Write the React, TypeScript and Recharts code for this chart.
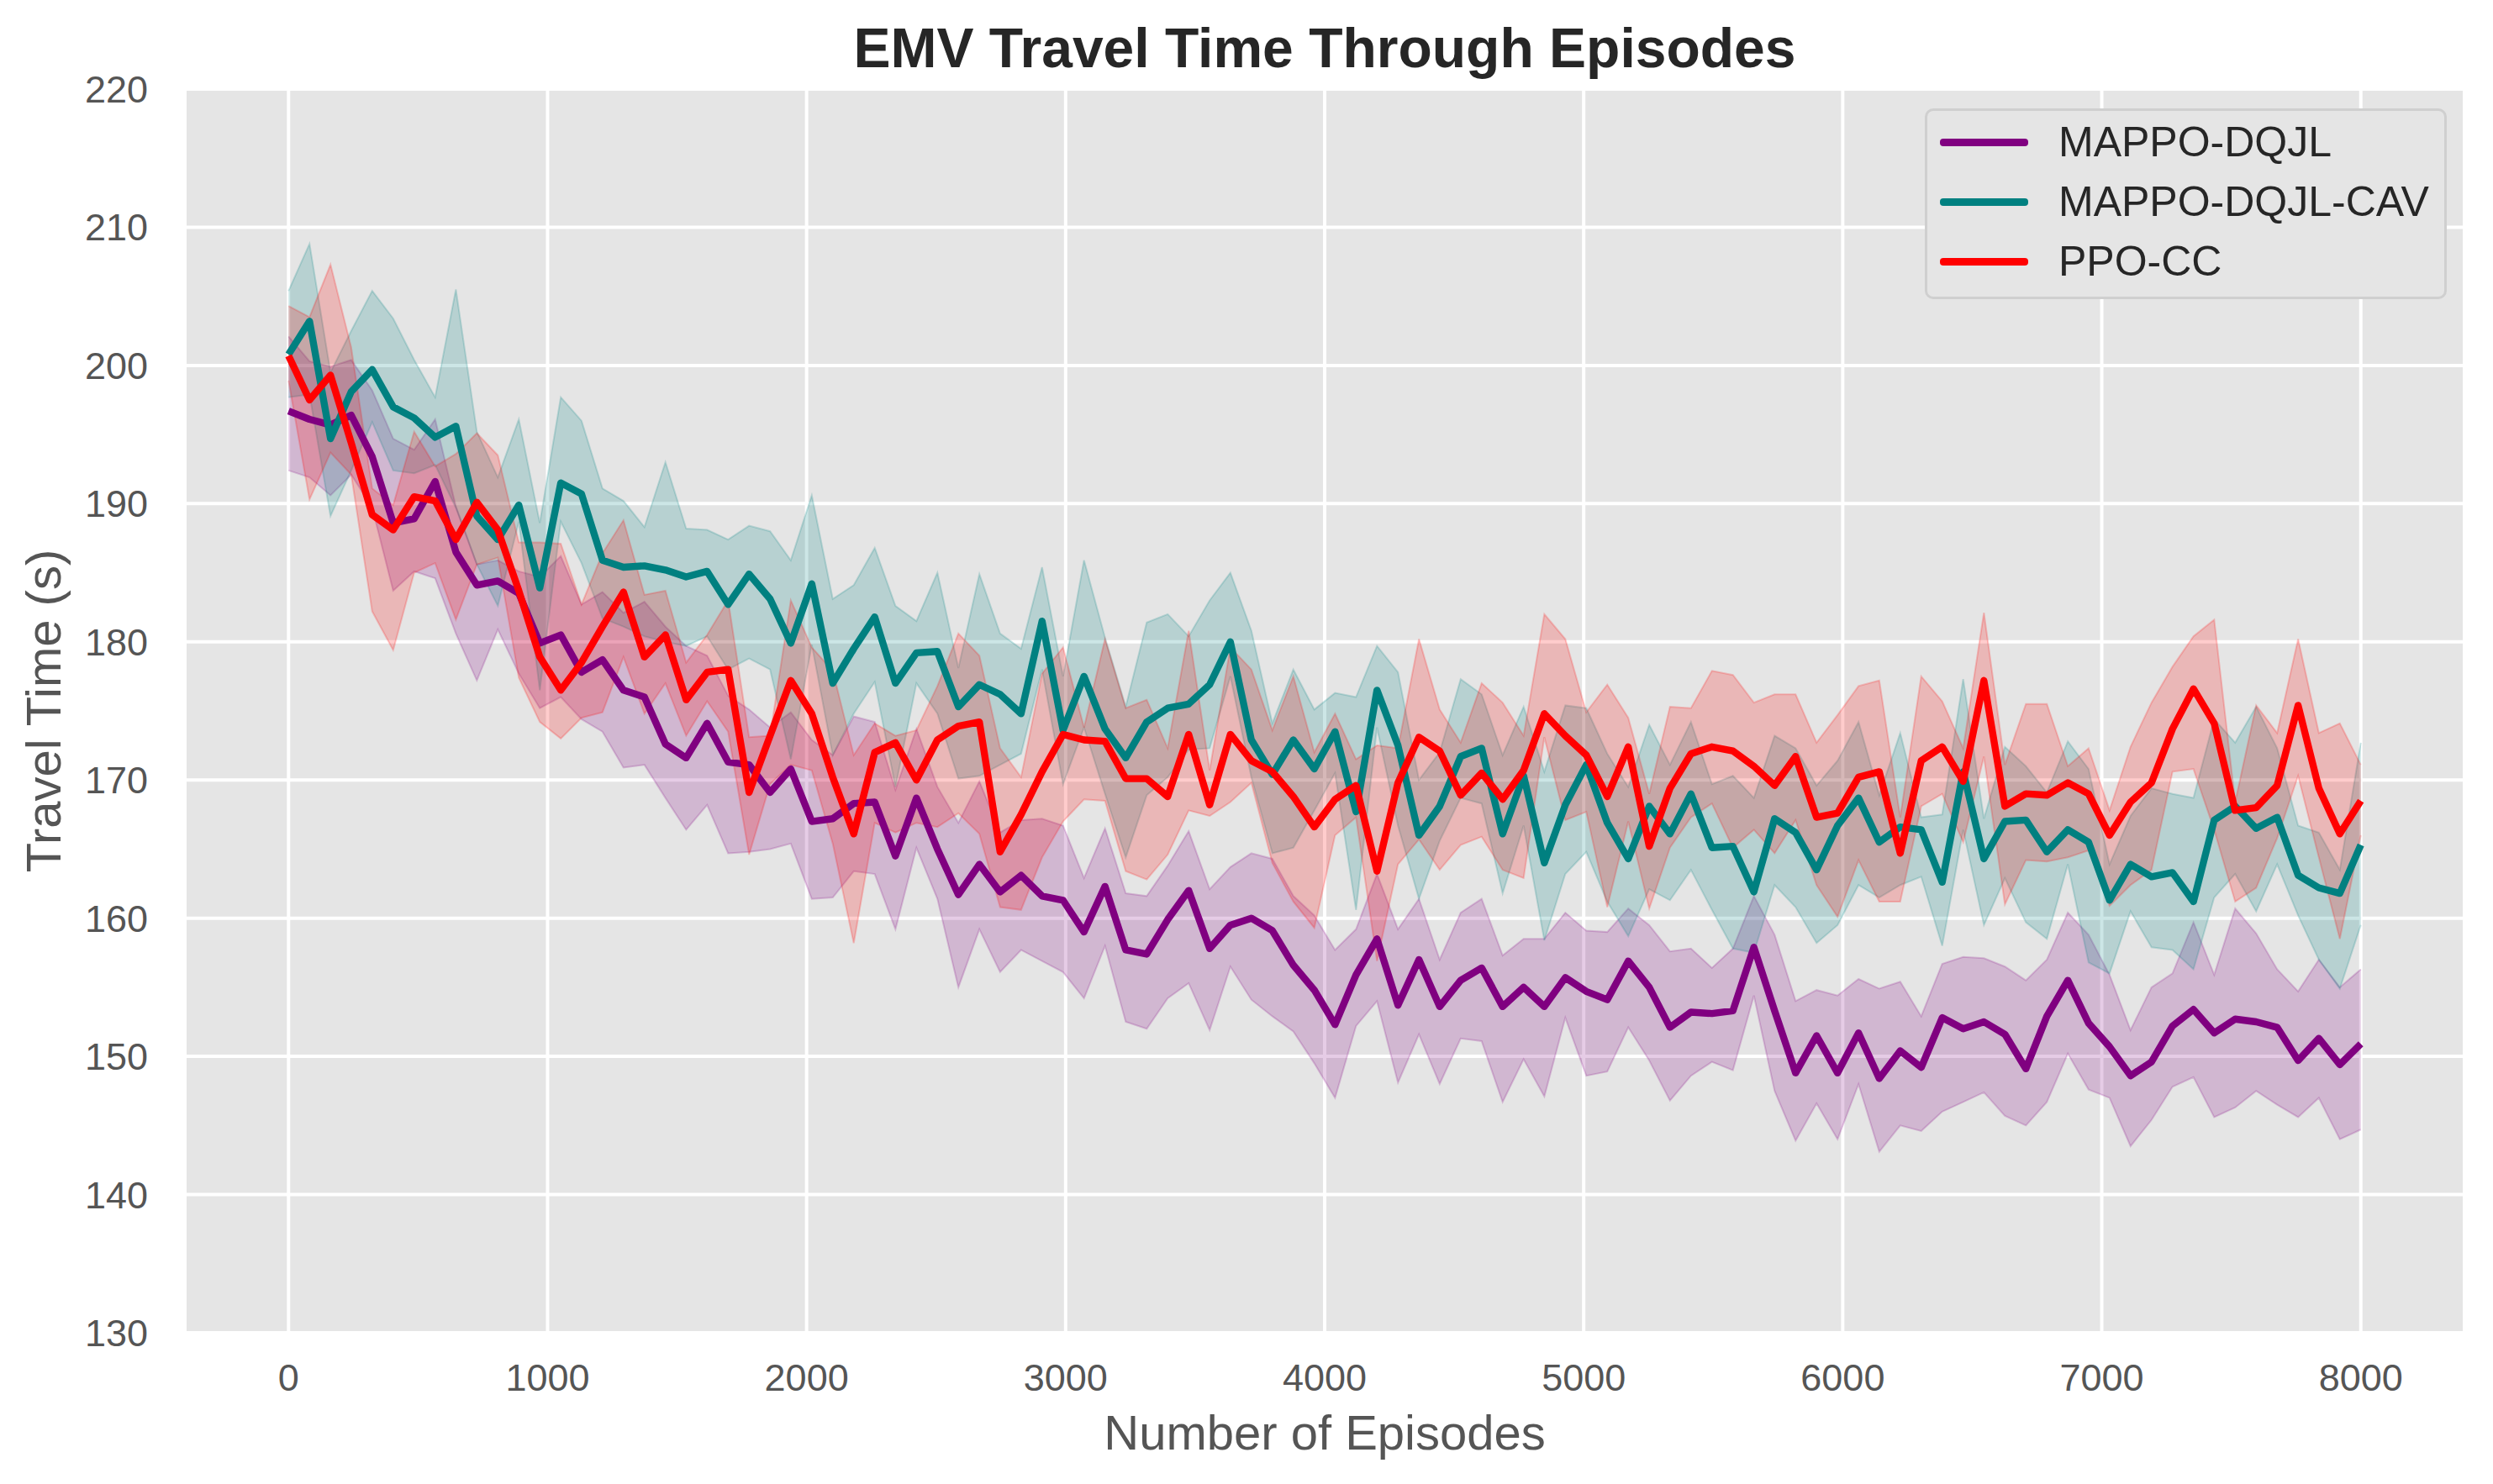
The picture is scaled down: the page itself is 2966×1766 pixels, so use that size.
import { ComposedChart, Line, Area, XAxis, YAxis, CartesianGrid } from "recharts"

// episode index (100 evaluation points between 0 and 8000)
const episodes = [
  0, 81, 162, 242, 323, 404, 485, 566, 646, 727,
  808, 889, 970, 1051, 1131, 1212, 1293, 1374, 1455, 1535,
  1616, 1697, 1778, 1859, 1939, 2020, 2101, 2182, 2263, 2343,
  2424, 2505, 2586, 2667, 2747, 2828, 2909, 2990, 3071, 3152,
  3232, 3313, 3394, 3475, 3556, 3636, 3717, 3798, 3879, 3960,
  4040, 4121, 4202, 4283, 4364, 4444, 4525, 4606, 4687, 4768,
  4848, 4929, 5010, 5091, 5172, 5253, 5333, 5414, 5495, 5576,
  5657, 5737, 5818, 5899, 5980, 6061, 6141, 6222, 6303, 6384,
  6465, 6545, 6626, 6707, 6788, 6869, 6949, 7030, 7111, 7192,
  7273, 7354, 7434, 7515, 7596, 7677, 7758, 7838, 7919, 8000,
]

// MAPPO-DQJL
const dqjlMean = [
  196.7, 196.1, 195.7, 196.4, 193.4, 188.6, 188.9, 191.6, 186.5, 184.1,
  184.4, 183.5, 179.9, 180.5, 177.8, 178.7, 176.5, 176.0, 172.6, 171.6,
  174.1, 171.3, 171.1, 169.1, 170.8, 167.0, 167.2, 168.3, 168.4, 164.5,
  168.7, 165.0, 161.7, 163.9, 161.9, 163.1, 161.6, 161.3, 159.0, 162.3,
  157.7, 157.4, 159.9, 162.0, 157.8, 159.5, 160.0, 159.1, 156.6, 154.8,
  152.3, 155.9, 158.5, 153.7, 157.0, 153.6, 155.5, 156.4, 153.6, 155.0,
  153.6, 155.7, 154.7, 154.1, 156.9, 155.0, 152.1, 153.2, 153.1, 153.3,
  157.9, 153.3, 148.8, 151.5, 148.8, 151.7, 148.4, 150.4, 149.2, 152.8,
  152.0, 152.5, 151.6, 149.1, 152.9, 155.5, 152.4, 150.7, 148.6, 149.6,
  152.2, 153.4, 151.7, 152.7, 152.5, 152.1, 149.7, 151.3, 149.4, 150.9,
]
const dqjlHigh = [
  202.1, 200.3, 199.9, 200.4, 198.2, 194.7, 193.9, 196.1, 189.8, 185.6,
  185.9, 185.1, 184.7, 186.2, 182.7, 183.6, 182.1, 182.9, 181.1, 179.7,
  179.0, 176.1, 175.1, 173.8, 174.9, 172.9, 171.8, 174.6, 174.2, 169.3,
  173.7, 169.5, 166.9, 169.9, 166.2, 167.1, 167.2, 166.7, 162.9, 166.5,
  161.8, 161.6, 163.8, 166.3, 162.1, 163.7, 164.7, 164.3, 161.6, 160.2,
  157.7, 159.2, 163.2, 159.2, 161.4, 157.0, 160.4, 161.4, 157.3, 158.5,
  158.5, 160.4, 159.1, 159.0, 160.7, 159.5, 157.6, 157.8, 156.4, 157.8,
  161.6, 158.8, 154.0, 154.8, 154.4, 155.6, 154.9, 155.4, 152.9, 156.7,
  157.2, 157.1, 156.5, 155.5, 157.0, 160.4, 158.8, 155.9, 151.9, 155.0,
  156.0, 159.7, 155.9, 160.7, 158.9, 156.3, 154.7, 157.0, 155.0, 156.3,
]
const dqjlLow = [
  192.4, 191.9, 190.6, 192.1, 189.7, 183.7, 185.1, 184.6, 180.6, 177.2,
  180.9, 177.7, 175.2, 176.0, 174.4, 173.5, 170.9, 171.1, 168.7, 166.4,
  168.2, 164.7, 164.8, 165.0, 165.4, 161.4, 161.5, 163.4, 163.2, 159.2,
  165.1, 161.4, 155.0, 159.2, 156.1, 157.7, 156.9, 156.1, 154.2, 158.0,
  152.5, 152.0, 154.2, 155.3, 151.9, 156.5, 154.1, 152.9, 151.8, 149.5,
  147.0, 152.2, 154.0, 148.1, 151.6, 148.0, 151.3, 151.1, 146.7, 149.8,
  147.1, 152.8, 148.6, 148.9, 152.1, 149.7, 146.8, 148.6, 149.6, 149.0,
  154.4, 147.5, 143.9, 146.6, 144.0, 148.0, 143.1, 145.0, 144.6, 146.0,
  146.7, 147.4, 145.7, 145.0, 146.7, 150.2, 147.6, 147.0, 143.5, 145.4,
  147.8, 148.5, 145.6, 146.3, 147.5, 146.5, 145.6, 147.0, 144.0, 144.7,
]

// MAPPO-DQJL-CAV
const cavMean = [
  200.8, 203.2, 194.7, 198.1, 199.7, 197.0, 196.2, 194.8, 195.6, 189.1,
  187.4, 189.9, 183.9, 191.5, 190.7, 185.9, 185.4, 185.5, 185.2, 184.7,
  185.1, 182.7, 184.9, 183.1, 179.9, 184.2, 177.0, 179.5, 181.8, 177.0,
  179.2, 179.3, 175.3, 176.9, 176.2, 174.8, 181.5, 173.6, 177.5, 173.7,
  171.6, 174.2, 175.2, 175.5, 176.9, 180.0, 172.9, 170.4, 172.9, 170.8,
  173.5, 167.7, 176.5, 172.5, 166.0, 168.1, 171.7, 172.3, 166.1, 170.3,
  164.0, 168.2, 171.1, 166.9, 164.3, 168.1, 166.1, 169.0, 165.1, 165.2,
  161.9, 167.2, 166.2, 163.5, 166.7, 168.7, 165.5, 166.6, 166.4, 162.6,
  170.6, 164.3, 167.0, 167.1, 164.8, 166.4, 165.5, 161.3, 163.9, 163.0,
  163.3, 161.2, 167.1, 168.1, 166.5, 167.3, 163.1, 162.2, 161.8, 165.3,
]
const cavHigh = [
  205.4, 208.8, 199.5, 202.5, 205.4, 203.4, 200.4, 197.7, 205.5, 195.2,
  191.9, 196.1, 188.6, 197.7, 196.0, 191.1, 190.2, 188.3, 193.0, 188.2,
  188.1, 187.4, 188.4, 188.0, 185.9, 190.6, 183.1, 184.1, 186.8, 182.6,
  181.5, 185.0, 178.1, 184.9, 180.6, 179.5, 185.4, 177.5, 185.9, 180.3,
  175.3, 181.4, 182.0, 180.4, 183.0, 185.0, 180.8, 174.1, 178.0, 175.1,
  176.3, 176.0, 179.7, 177.8, 170.0, 172.0, 177.3, 176.2, 171.8, 175.3,
  170.6, 175.4, 175.2, 171.9, 169.5, 174.0, 171.1, 174.2, 169.7, 170.3,
  168.7, 173.2, 172.3, 169.6, 171.4, 174.2, 168.9, 173.4, 167.3, 167.5,
  177.3, 167.2, 172.4, 171.0, 169.1, 172.8, 170.8, 163.9, 167.4, 169.4,
  169.0, 168.7, 174.4, 172.7, 175.3, 172.3, 166.7, 166.2, 163.5, 172.7,
]
const cavLow = [
  197.7, 197.9, 189.1, 192.4, 195.9, 192.4, 192.2, 192.8, 189.7, 185.6,
  182.6, 188.7, 176.5, 188.7, 185.7, 181.7, 181.1, 180.4, 180.0, 179.7,
  180.4, 178.0, 178.8, 178.0, 171.5, 179.8, 171.8, 174.8, 177.1, 169.5,
  177.0, 174.8, 170.1, 170.3, 171.1, 171.9, 178.0, 169.7, 173.8, 169.0,
  164.4, 168.9, 170.2, 172.2, 172.3, 177.5, 170.2, 164.7, 165.1, 167.8,
  170.5, 160.6, 173.8, 166.7, 161.4, 165.6, 168.7, 168.3, 161.8, 166.7,
  158.4, 163.2, 164.8, 161.2, 158.7, 162.1, 161.3, 163.5, 160.6, 157.8,
  157.5, 162.4, 160.8, 158.2, 159.5, 162.4, 161.5, 162.4, 163.0, 158.0,
  166.4, 159.5, 162.9, 159.7, 158.5, 163.9, 156.8, 156.0, 160.5, 157.9,
  157.7, 156.3, 161.5, 163.2, 160.5, 163.9, 160.2, 157.0, 154.9, 159.5,
]

// PPO-CC
const ccMean = [
  200.7, 197.5, 199.3, 194.4, 189.2, 188.1, 190.5, 190.2, 187.4, 190.1,
  188.1, 183.7, 178.9, 176.5, 178.5, 181.1, 183.6, 178.9, 180.5, 175.8,
  177.8, 178.0, 169.1, 173.2, 177.2, 174.8, 170.2, 166.1, 172.0, 172.7,
  170.0, 172.9, 173.9, 174.2, 164.8, 167.5, 170.6, 173.3, 172.9, 172.8,
  170.1, 170.1, 168.8, 173.3, 168.2, 173.3, 171.4, 170.6, 168.8, 166.6,
  168.6, 169.6, 163.4, 169.8, 173.1, 172.1, 168.9, 170.5, 168.6, 170.7,
  174.8, 173.2, 171.8, 168.8, 172.4, 165.2, 169.4, 171.9, 172.4, 172.1,
  171.0, 169.6, 171.7, 167.3, 167.6, 170.2, 170.6, 164.7, 171.4, 172.4,
  169.9, 177.2, 168.1, 169.0, 168.9, 169.8, 169.0, 166.0, 168.4, 169.8,
  173.7, 176.6, 174.1, 167.8, 168.0, 169.6, 175.4, 169.4, 166.1, 168.5,
]
const ccHigh = [
  204.3, 203.5, 207.3, 201.3, 191.1, 189.9, 195.2, 192.7, 193.6, 195.1,
  193.5, 187.2, 187.2, 187.1, 182.7, 186.4, 188.8, 183.4, 183.7, 178.5,
  180.5, 183.0, 173.1, 173.2, 183.0, 179.6, 177.9, 171.8, 174.1, 173.2,
  173.6, 176.8, 180.6, 179.0, 172.3, 170.2, 177.7, 179.6, 173.8, 180.2,
  175.2, 175.8, 172.3, 180.8, 170.7, 179.6, 178.0, 173.6, 177.5, 172.0,
  174.8, 171.5, 172.5, 172.3, 180.2, 175.1, 172.7, 177.0, 175.6, 173.2,
  182.0, 180.2, 174.9, 176.9, 174.5, 169.0, 175.3, 175.2, 177.9, 177.6,
  175.6, 176.2, 176.2, 172.7, 174.7, 176.8, 177.2, 167.3, 177.5, 175.7,
  172.3, 182.1, 171.1, 175.5, 175.5, 171.0, 172.3, 167.8, 172.4, 175.6,
  178.2, 180.4, 181.6, 168.4, 175.4, 173.4, 180.2, 173.4, 174.1, 171.1,
]
const ccLow = [
  198.9, 190.3, 193.7, 192.1, 182.2, 179.4, 185.0, 185.7, 181.6, 185.6,
  186.1, 177.4, 174.2, 173.0, 174.5, 174.9, 178.9, 174.8, 177.0, 173.2,
  175.7, 173.5, 164.6, 169.7, 171.1, 170.7, 165.4, 158.2, 166.9, 166.2,
  166.9, 166.6, 167.6, 166.1, 160.8, 160.6, 164.4, 167.0, 168.6, 168.5,
  163.4, 162.8, 164.6, 167.8, 167.4, 168.4, 169.8, 164.0, 161.2, 159.3,
  166.0, 167.3, 156.9, 163.9, 165.7, 163.5, 165.3, 165.9, 163.5, 162.9,
  173.1, 167.1, 167.7, 160.8, 167.0, 160.7, 165.1, 167.3, 168.3, 165.1,
  166.4, 164.7, 167.1, 162.4, 160.1, 164.2, 161.2, 161.2, 168.1, 169.0,
  165.5, 171.7, 161.0, 164.2, 164.1, 164.4, 164.9, 160.9, 162.4, 163.5,
  170.6, 170.8, 166.4, 161.2, 162.2, 165.8, 170.3, 164.4, 158.5, 166.0,
]

const xTicks = [0, 1000, 2000, 3000, 4000, 5000, 6000, 7000, 8000]
const yTicks = [130, 140, 150, 160, 170, 180, 190, 200, 210, 220]

const series = [
  { name: "MAPPO-DQJL", key: "dqjl", color: "#800080" },
  { name: "MAPPO-DQJL-CAV", key: "cav", color: "#008080" },
  { name: "PPO-CC", key: "cc", color: "#ff0000" },
]

const rows = episodes.map((ep, i) => ({
  ep,
  dqjl: dqjlMean[i],
  dqjlBand: [dqjlLow[i], dqjlHigh[i]],
  cav: cavMean[i],
  cavBand: [cavLow[i], cavHigh[i]],
  cc: ccMean[i],
  ccBand: [ccLow[i], ccHigh[i]],
}))

const FONT = '"Liberation Sans", Arial, Helvetica, sans-serif'

export default function App() {
  return (
    <div
      style={{
        position: "absolute",
        left: 0,
        top: 0,
        width: 2966,
        height: 1766,
        background: "#fff",
        fontFamily: FONT,
        overflow: "hidden",
      }}
    >
      <ComposedChart width={2966} height={1766} data={rows} margin={{ top: 106, right: 34, bottom: 80, left: 20 }}>
        <CartesianGrid stroke="#ffffff" strokeWidth={4} fill="#e5e5e5" fillOpacity={1} />
        <XAxis
          dataKey="ep"
          type="number"
          domain={[-400, 8400]}
          ticks={xTicks}
          interval={0}
          allowDataOverflow
          axisLine={false}
          tickLine={false}
          tickSize={0}
          tickMargin={37}
          height={100}
          tick={{ fill: "#555555", fontSize: 45, fontFamily: FONT }}
        />
        <YAxis
          type="number"
          domain={[130, 220]}
          ticks={yTicks}
          interval={0}
          allowDataOverflow
          axisLine={false}
          tickLine={false}
          tickSize={0}
          tickMargin={44}
          width={200}
          tick={{ fill: "#555555", fontSize: 45, fontFamily: FONT }}
        />
        {series.map((s) => (
          <Area
            key={s.key + "Band"}
            type="linear"
            dataKey={s.key + "Band"}
            fill={s.color}
            fillOpacity={0.2}
            stroke={s.color}
            strokeOpacity={0.2}
            strokeWidth={2}
            dot={false}
            activeDot={false}
            isAnimationActive={false}
          />
        ))}
        {series.map((s) => (
          <Line
            key={s.key}
            type="linear"
            dataKey={s.key}
            stroke={s.color}
            strokeWidth={8.4}
            strokeLinejoin="round"
            dot={false}
            activeDot={false}
            isAnimationActive={false}
          />
        ))}
      </ComposedChart>

      {/* title */}
      <div
        style={{
          position: "absolute",
          left: 220,
          width: 2712,
          top: 24,
          textAlign: "center",
          fontSize: 66,
          lineHeight: "66px",
          fontWeight: "bold",
          color: "#262626",
          whiteSpace: "nowrap",
        }}
      >
        EMV Travel Time Through Episodes
      </div>

      {/* x axis label */}
      <div
        style={{
          position: "absolute",
          left: 220,
          width: 2712,
          top: 1676,
          textAlign: "center",
          fontSize: 58,
          lineHeight: "58px",
          color: "#555555",
          whiteSpace: "nowrap",
        }}
      >
        Number of Episodes
      </div>

      {/* y axis label */}
      <div
        style={{
          position: "absolute",
          left: 52 - 450,
          top: 846 - 29,
          width: 900,
          height: 58,
          textAlign: "center",
          fontSize: 58,
          lineHeight: "58px",
          color: "#555555",
          whiteSpace: "nowrap",
          transform: "rotate(-90deg)",
        }}
      >
        Travel Time (s)
      </div>

      {/* legend */}
      <div
        style={{
          position: "absolute",
          left: 2290,
          top: 129,
          width: 621,
          height: 227,
          boxSizing: "border-box",
          paddingTop: 2,
          background: "#e5e5e5",
          border: "3px solid #cfcfcf",
          borderRadius: 10,
        }}
      >
        {series.map((s) => (
          <div key={s.key} style={{ display: "flex", alignItems: "center", height: 71 }}>
            <div
              style={{
                marginLeft: 15,
                width: 105,
                height: 8.4,
                borderRadius: 4,
                background: s.color,
              }}
            />
            <div
              style={{
                marginLeft: 36,
                fontSize: 50,
                lineHeight: "71px",
                color: "#262626",
                whiteSpace: "nowrap",
              }}
            >
              {s.name}
            </div>
          </div>
        ))}
      </div>
    </div>
  )
}
